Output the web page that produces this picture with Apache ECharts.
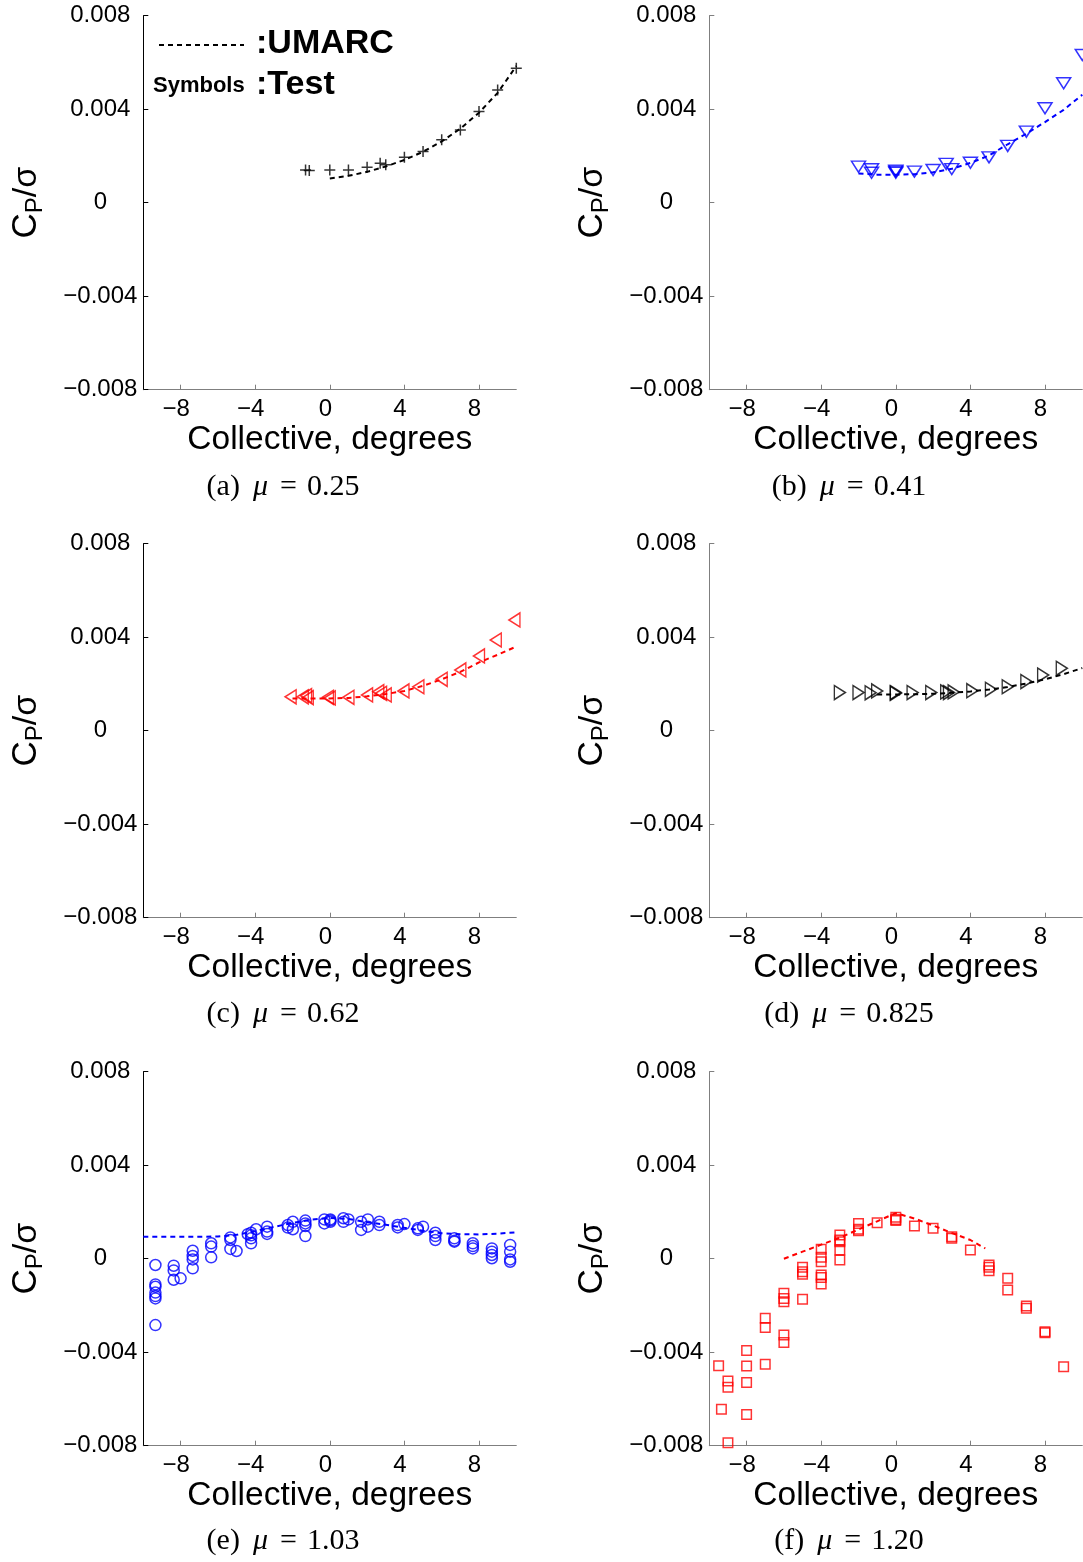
<!DOCTYPE html>
<html>
<head>
<meta charset="utf-8">
<script src="https://cdn.jsdelivr.net/npm/echarts@6/dist/echarts.min.js"></script>
<style>
html,body{margin:0;padding:0;background:#fff;}
#chart{width:1083px;height:1562px;}
</style>
</head>
<body>
<div id="chart"></div>
<script>
// ---- tick labels / names ----
const X_TICKS = [-8, -4, 0, 4, 8];
const X_NAME = 'Collective, degrees';
const CAPTION_TAGS = ['(a)', '(b)', '(c)', '(d)', '(e)', '(f)'];
const CAPTION_MU = ['0.25', '0.41', '0.62', '0.825', '1.03', '1.20'];

// ---- data (Cp/sigma in units of 1e-3) ----
// (a) mu = 0.25
const aTestX  = [-1.3, -1.1, 0, 1, 2, 2.7, 3, 4, 5, 6, 7, 8, 9, 10];
const aTestY  = [1.40, 1.38, 1.40, 1.40, 1.52, 1.69, 1.62, 1.94, 2.19, 2.69, 3.11, 3.90, 4.82, 5.75];
const aUmarcX = [0, 1, 2, 3, 4, 5, 6, 7, 8, 9, 10];
const aUmarcY = [1.04, 1.15, 1.32, 1.55, 1.83, 2.18, 2.62, 3.17, 3.85, 4.70, 5.85];
// (b) mu = 0.41
const bTestX  = [-2, -1.3, -1.3, 0, 0, 0, 1, 2, 2.7, 3, 4, 5, 6, 7, 8, 9, 10];
const bTestY  = [1.54, 1.43, 1.28, 1.37, 1.28, 1.33, 1.33, 1.40, 1.66, 1.44, 1.71, 1.94, 2.43, 3.04, 4.04, 5.11, 6.32];
const bUmarcX = [-2, -1, 0, 1, 2, 3, 4, 5, 6, 7, 8, 9, 10];
const bUmarcY = [1.25, 1.20, 1.20, 1.22, 1.30, 1.45, 1.70, 2.02, 2.50, 2.95, 3.45, 3.97, 4.62];
// (c) mu = 0.62
const cTestX  = [-2.1, -1.45, -1.27, -1.18, -0.1, 0, 1, 2, 2.6, 2.75, 3, 3.95, 4.75, 6, 7, 8, 8.9, 9.9];
const cTestY  = [1.45, 1.45, 1.50, 1.41, 1.43, 1.40, 1.43, 1.53, 1.67, 1.60, 1.53, 1.70, 1.88, 2.20, 2.60, 3.20, 3.88, 4.74];
const cUmarcX = [-2, -1, 0, 1, 2, 3, 4, 5, 6, 7, 8, 9, 10];
const cUmarcY = [1.38, 1.38, 1.38, 1.40, 1.47, 1.57, 1.70, 1.92, 2.20, 2.52, 2.92, 3.25, 3.60];
// (d) mu = 0.825
const dTestX  = [-3, -2, -1.35, -1, 0, 0, 0.9, 1.9, 2.7, 2.85, 3.1, 4.1, 5.1, 6, 7, 7.9, 8.9];
const dTestY  = [1.63, 1.63, 1.62, 1.70, 1.63, 1.60, 1.63, 1.63, 1.66, 1.63, 1.66, 1.71, 1.77, 1.88, 2.10, 2.38, 2.67];
const dUmarcX = [-1, 0, 1, 2, 3, 4, 5, 6, 7, 8, 9, 10];
const dUmarcY = [1.55, 1.55, 1.56, 1.58, 1.62, 1.68, 1.76, 1.87, 2.02, 2.20, 2.42, 2.68];
// (e) mu = 1.03
const eTestX  = [-9.35, -9.35, -9.35, -9.35, -9.35, -9.35, -9.35,
                 -8.37, -8.37, -8.37, -8.0,
                 -7.35, -7.35, -7.35, -7.35,
                 -6.36, -6.36, -6.36,
                 -5.33, -5.33, -5.33, -5.0,
                 -4.4, -4.22, -4.22, -4.22, -4.22, -3.95,
                 -3.36, -3.36, -3.36,
                 -2.25, -2.25, -1.98, -1.98,
                 -1.31, -1.31, -1.31, -1.31,
                 -0.29, -0.29,
                 0.03, 0.03, 0.03,
                 0.73, 0.73, 1.0,
                 1.68, 1.68, 2.04, 2.04,
                 2.66, 2.66,
                 3.64, 3.64, 4.0,
                 4.72, 4.72, 5.0,
                 5.66, 5.66, 5.66,
                 6.68, 6.68, 6.68,
                 7.67, 7.67, 7.67,
                 8.69, 8.69, 8.69, 8.69,
                 9.67, 9.67, 9.67, 9.67];
const eTestY  = [-0.27, -1.10, -1.20, -1.45, -1.60, -1.70, -2.84,
                 -0.30, -0.50, -0.90, -0.84,
                 0.34, 0.12, -0.03, -0.41,
                 0.66, 0.52, 0.06,
                 0.91, 0.80, 0.42, 0.33,
                 1.05, 1.11, 1.00, 0.87, 0.66, 1.26,
                 1.37, 1.16, 1.06,
                 1.44, 1.33, 1.58, 1.26,
                 1.63, 1.51, 1.40, 0.97,
                 1.68, 1.51,
                 1.68, 1.58, 1.63,
                 1.73, 1.58, 1.68,
                 1.58, 1.23, 1.68, 1.37,
                 1.58, 1.44,
                 1.44, 1.34, 1.48,
                 1.30, 1.23, 1.37,
                 1.11, 0.97, 0.80,
                 0.87, 0.77, 0.73,
                 0.66, 0.54, 0.44,
                 0.44, 0.30, 0.16, 0.02,
                 0.59, 0.30, -0.03, -0.13];
const eUmarcX = [-10, -9, -8, -7, -6, -5, -4, -3, -2, -1, 0, 1, 2, 3, 4, 5, 6, 7, 8, 9, 10];
const eUmarcY = [0.94, 0.94, 0.94, 0.94, 0.95, 1.02, 1.18, 1.36, 1.53, 1.67, 1.74, 1.70, 1.56, 1.45, 1.32, 1.20, 1.09, 1.05, 1.04, 1.07, 1.13];
// (f) mu = 1.20
const fTestX  = [-9.5, -9.35, -9, -9, -9,
                 -8, -8, -8, -8,
                 -7, -7, -7,
                 -6, -6, -6, -6, -6,
                 -5, -5, -5, -5,
                 -4, -4, -4, -4, -4, -4,
                 -3, -3, -3, -3, -3,
                 -2, -2, -2,
                 -1,
                 0, 0, 0,
                 1, 2, 3, 3, 4,
                 5, 5, 5,
                 6, 6, 7, 7, 8, 8, 9];
const fTestY  = [-4.58, -6.44, -5.23, -5.50, -7.87,
                 -3.93, -4.59, -5.30, -6.66,
                 -2.55, -2.94, -4.52,
                 -1.48, -1.70, -1.84, -3.26, -3.58,
                 -0.37, -0.56, -0.66, -1.74,
                 0.40, 0.06, -0.13, -0.70, -0.80, -1.08,
                 1.01, 0.80, 0.73, 0.37, -0.06,
                 1.51, 1.26, 1.20,
                 1.54,
                 1.77, 1.68, 1.63,
                 1.40, 1.30, 0.94, 0.87, 0.37,
                 -0.27, -0.37, -0.52,
                 -0.84, -1.34, -2.02, -2.12, -3.12, -3.17, -4.62];
const fUmarcX = [-6, -5, -4, -3, -2, -1, 0, 1, 2, 3, 4, 4.8];
const fUmarcY = [0.00, 0.30, 0.60, 0.90, 1.25, 1.60, 1.95, 1.72, 1.42, 1.10, 0.80, 0.44];

// ---- styling ----
const FONT = "'Liberation Sans', Arial, Helvetica, sans-serif";
const SERIF = "'Liberation Serif', 'Times New Roman', serif";
const BLUE = '#0000ff', RED = '#ff0000', BLACK = '#000000';
const PLUS = 'path://M5,0V10M0,5H10';

const panels = [
  { test: [aTestX, aTestY], umarc: [aUmarcX, aUmarcY], color: BLACK, symbol: PLUS, size: 11, rotate: 0 },
  { test: [bTestX, bTestY], umarc: [bUmarcX, bUmarcY], color: BLUE, symbol: 'triangle', size: [14, 11], rotate: 180 },
  { test: [cTestX, cTestY], umarc: [cUmarcX, cUmarcY], color: RED, symbol: 'triangle', size: [14, 11], rotate: 90 },
  { test: [dTestX, dTestY], umarc: [dUmarcX, dUmarcY], color: BLACK, symbol: 'triangle', size: [14, 11], rotate: -90 },
  { test: [eTestX, eTestY], umarc: [eUmarcX, eUmarcY], color: BLUE, symbol: 'circle', size: 11, rotate: 0 },
  { test: [fTestX, fTestY], umarc: [fUmarcX, fUmarcY], color: RED, symbol: 'rect', size: 9.5, rotate: 0 }
];

const COL_LEFT = [143.3, 709.3];
const ROW_TOP = [15.7, 543.7, 1071.7];
const GW = 373, GH = 374;
const CAP_X = [283, 849];
const CAP_Y = [487, 1014, 1541];

const pair = (xs, ys) => xs.map((x, i) => [x, ys[i]]);
const fmtX = v => (v < 0 ? '\u2212' : '') + Math.abs(v);
const fmtY = v => v === 0 ? '0' : (v < 0 ? '\u2212' : '') + '0.00' + Math.abs(v);

const grid = [], xAxis = [], yAxis = [], series = [], graphic = [];

panels.forEach((p, i) => {
  const col = i % 2, row = Math.floor(i / 2);
  const yLineColor = col === 0 ? '#000' : '#7f7f7f';
  const xLineColor = '#7f7f7f';
  grid.push({ left: COL_LEFT[col], top: ROW_TOP[row], width: GW, height: GH });
  xAxis.push({
    gridIndex: i, type: 'value', min: -10, max: 10,
    axisLine: { show: true, onZero: false, lineStyle: { color: xLineColor, width: 1 } },
    axisTick: { show: true, inside: true, length: 5, customValues: X_TICKS, lineStyle: { color: xLineColor } },
    axisLabel: { customValues: X_TICKS, formatter: fmtX, fontSize: 24, color: '#000', fontFamily: FONT,
                 margin: 8, padding: [0, 9, 0, 0] },
    splitLine: { show: false },
    name: X_NAME, nameLocation: 'middle', nameGap: 26,
    nameTextStyle: { fontSize: 33.5, color: '#000', fontFamily: FONT }
  });
  yAxis.push({
    gridIndex: i, type: 'value', min: -8, max: 8, interval: 4,
    axisLine: { show: true, onZero: false, lineStyle: { color: yLineColor, width: 1 } },
    axisTick: { show: true, inside: true, length: 5, lineStyle: { color: yLineColor } },
    axisLabel: { formatter: fmtY, align: 'center', margin: 43, fontSize: 24, color: '#000', fontFamily: FONT,
                 padding: [10, 0, 0, 0], showMinLabel: true, showMaxLabel: true },
    splitLine: { show: false },
    name: '{c|C}{p|P}{s|/σ}', nameLocation: 'middle', nameRotate: 90, nameGap: 92,
    nameTextStyle: {
      color: '#000', fontFamily: FONT,
      rich: {
        c: { fontSize: 35, fontFamily: FONT, color: '#000', lineHeight: 50 },
        p: { fontSize: 24, fontFamily: FONT, color: '#000', lineHeight: 24, verticalAlign: 'bottom', padding: [0, 0, 4, 0] },
        s: { fontSize: 34, fontFamily: FONT, color: '#000', lineHeight: 50 }
      }
    }
  });
  series.push({
    type: 'line', xAxisIndex: i, yAxisIndex: i, data: pair(p.umarc[0], p.umarc[1]),
    showSymbol: false, symbol: 'none', silent: true, z: 3,
    lineStyle: { color: p.color, width: 2, type: [5, 4] }
  });
  series.push({
    type: 'scatter', xAxisIndex: i, yAxisIndex: i, data: pair(p.test[0], p.test[1]),
    symbol: p.symbol, symbolSize: p.size, symbolRotate: p.rotate, symbolKeepAspect: false, z: 2,
    itemStyle: { color: 'rgba(0,0,0,0)', borderColor: p.color, borderWidth: 1.5 }
  });
  graphic.push({
    type: 'text', x: CAP_X[col], y: CAP_Y[row],
    style: {
      text: '{n|' + CAPTION_TAGS[i] + '}{m|μ}{e|=}{n|' + CAPTION_MU[i] + '}',
      align: 'center', verticalAlign: 'middle',
      rich: {
        n: { fontSize: 30, fontFamily: SERIF, fill: '#000' },
        m: { fontSize: 30, fontFamily: SERIF, fontStyle: 'italic', fill: '#000', padding: [0, 12, 0, 13] },
        e: { fontSize: 30, fontFamily: SERIF, fill: '#000', padding: [0, 10, 0, 0] }
      }
    }
  });
});

// legend drawn in panel (a)
graphic.push({ type: 'line', shape: { x1: 159, y1: 45, x2: 244, y2: 45 },
  style: { stroke: '#000', lineWidth: 2, lineDash: [5, 4] } });
graphic.push({ type: 'text', x: 256, y: 44,
  style: { text: ':UMARC', font: 'bold 34px ' + FONT, fill: '#000', verticalAlign: 'middle' } });
graphic.push({ type: 'text', x: 153, y: 86,
  style: { text: 'Symbols', font: 'bold 22px ' + FONT, fill: '#000', verticalAlign: 'middle' } });
graphic.push({ type: 'text', x: 256, y: 85,
  style: { text: ':Test', font: 'bold 34px ' + FONT, fill: '#000', verticalAlign: 'middle' } });

const chart = echarts.init(document.getElementById('chart'), null, { renderer: 'canvas' });
chart.setOption({
  animation: false,
  backgroundColor: '#ffffff',
  grid, xAxis, yAxis, series, graphic
});
</script>
</body>
</html>
